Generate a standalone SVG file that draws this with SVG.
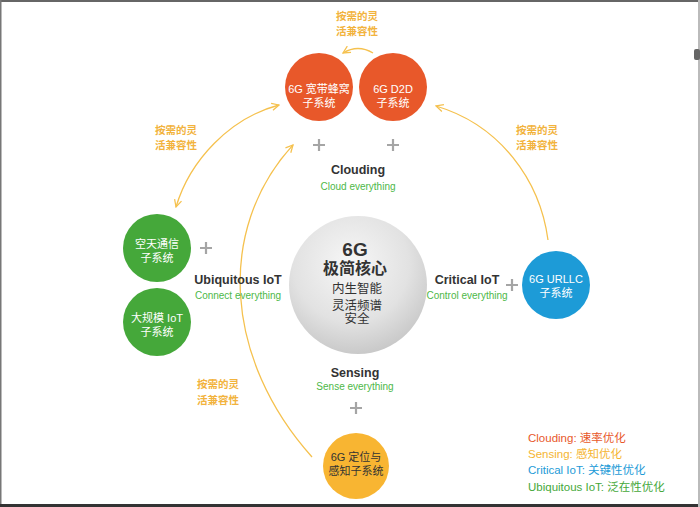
<svg xmlns="http://www.w3.org/2000/svg" width="700" height="507" viewBox="0 0 700 507">
<style>
text{font-family:"Liberation Sans","Noto Sans CJK SC",sans-serif;text-anchor:middle}
.ct{fill:#fff;font-size:11px}
.hd{fill:#333;font-size:12.5px;font-weight:bold}
.sub{fill:#4db848;font-size:10px}
.lab{fill:#f2b33d;font-size:10.5px;font-weight:bold}
.plus{stroke:#a5a5a5;stroke-width:2.2}
.arc{fill:none;stroke:#f5c14e;stroke-width:1.3}
.leg{font-size:11.5px;text-anchor:start}
</style>
<defs>
<marker id="ah" viewBox="0 0 10 10" refX="9" refY="5" markerWidth="9" markerHeight="9" markerUnits="userSpaceOnUse" orient="auto-start-reverse">
<path d="M1,1 L9,5 L1,9" fill="none" stroke="#f5c14e" stroke-width="1.4"/>
</marker>
<radialGradient id="core" cx="0.45" cy="0.35" r="0.7">
<stop offset="0" stop-color="#f7f7f7"/>
<stop offset="0.6" stop-color="#e2e2e2"/>
<stop offset="1" stop-color="#c4c4c4"/>
</radialGradient>
</defs>
<rect width="700" height="507" fill="#fff"/>
<rect x="0" y="0" width="700" height="2" fill="#666"/>
<rect x="0" y="0" width="1.5" height="507" fill="#777"/>
<rect x="0" y="504" width="700" height="3" fill="#333"/>
<rect x="698" y="0" width="2" height="507" fill="#bbb"/>
<rect x="694" y="49" width="6" height="11" rx="2" fill="#666"/>

<g id="connectors">
<path class="arc" d="M373,53 Q358,44 343,53" marker-end="url(#ah)"/>
<path class="arc" d="M176,207 C190,160 230,118 279,105" marker-start="url(#ah)" marker-end="url(#ah)"/>
<path class="arc" d="M312,457 C225,360 215,230 293,145" marker-end="url(#ah)"/>
<path class="arc" d="M548,240 C540,180 500,125 436,106" marker-end="url(#ah)"/>
</g>

<g id="labels">
<text class="lab" x="357" y="20">按需的灵</text>
<text class="lab" x="357" y="35">活兼容性</text>
<text class="lab" x="176" y="134">按需的灵</text>
<text class="lab" x="176" y="149">活兼容性</text>
<text class="lab" x="537" y="134">按需的灵</text>
<text class="lab" x="537" y="149">活兼容性</text>
<text class="lab" x="218" y="388">按需的灵</text>
<text class="lab" x="218" y="404">活兼容性</text>
</g>

<g id="n-broadband">
<circle cx="319" cy="87" r="34" fill="#e8582a"/>
<text class="ct" x="319" y="93">6G 宽带蜂窝</text>
<text class="ct" x="319" y="107">子系统</text>
</g>
<g id="n-d2d">
<circle cx="393" cy="87" r="34" fill="#e8582a"/>
<text class="ct" x="393" y="93">6G D2D</text>
<text class="ct" x="393" y="107">子系统</text>
</g>

<g id="plus-signs">
<path class="plus" d="M313,145 h12 M319,139 v12"/>
<path class="plus" d="M387,145 h12 M393,139 v12"/>
<path class="plus" d="M200,248 h12 M206,242 v12"/>
<path class="plus" d="M506,285 h12 M512,279 v12"/>
<path class="plus" d="M350,408 h12 M356,402 v12"/>
</g>

<g id="clouding">
<text class="hd" x="358" y="174">Clouding</text>
<text class="sub" x="358" y="190">Cloud everything</text>
</g>
<g id="ubiquitous">
<text class="hd" x="238" y="284">Ubiquitous IoT</text>
<text class="sub" x="238" y="299">Connect everything</text>
</g>
<g id="critical">
<text class="hd" x="467" y="284">Critical IoT</text>
<text class="sub" x="467" y="299">Control everything</text>
</g>
<g id="sensing">
<text class="hd" x="355" y="377">Sensing</text>
<text class="sub" x="355" y="390">Sense everything</text>
</g>

<g id="n-space">
<circle cx="157" cy="248" r="34" fill="#45a83a"/>
<text class="ct" x="157" y="248">空天通信</text>
<text class="ct" x="157" y="262">子系统</text>
</g>
<g id="n-miot">
<circle cx="157" cy="322" r="34" fill="#45a83a"/>
<text class="ct" x="157" y="322">大规模 IoT</text>
<text class="ct" x="157" y="336">子系统</text>
</g>

<g id="n-core">
<circle cx="358" cy="285" r="69" fill="url(#core)"/>
<text x="355" y="256" fill="#333" font-size="19" font-weight="bold">6G</text>
<text x="355" y="274" fill="#333" font-size="16" font-weight="bold">极简核心</text>
<text x="357" y="293" fill="#333" font-size="12.5">内生智能</text>
<text x="357" y="310" fill="#333" font-size="12.5">灵活频谱</text>
<text x="357" y="323" fill="#333" font-size="12.5">安全</text>
</g>

<g id="n-urllc">
<circle cx="556" cy="285" r="34" fill="#1d9bd7"/>
<text class="ct" x="556" y="283">6G URLLC</text>
<text class="ct" x="556" y="297">子系统</text>
</g>

<g id="n-sensing">
<circle cx="356" cy="466" r="33" fill="#f8b532"/>
<text x="356" y="461" fill="#333" font-size="11">6G 定位与</text>
<text x="356" y="475" fill="#333" font-size="11">感知子系统</text>
</g>

<g id="legend">
<text class="leg" x="528" y="442" fill="#e8582a">Clouding: 速率优化</text>
<text class="leg" x="528" y="458" fill="#f5b532">Sensing: 感知优化</text>
<text class="leg" x="528" y="474" fill="#1d9bd7">Critical IoT: 关键性优化</text>
<text class="leg" x="528" y="491" fill="#45a83a">Ubiquitous IoT: 泛在性优化</text>
</g>
</svg>
